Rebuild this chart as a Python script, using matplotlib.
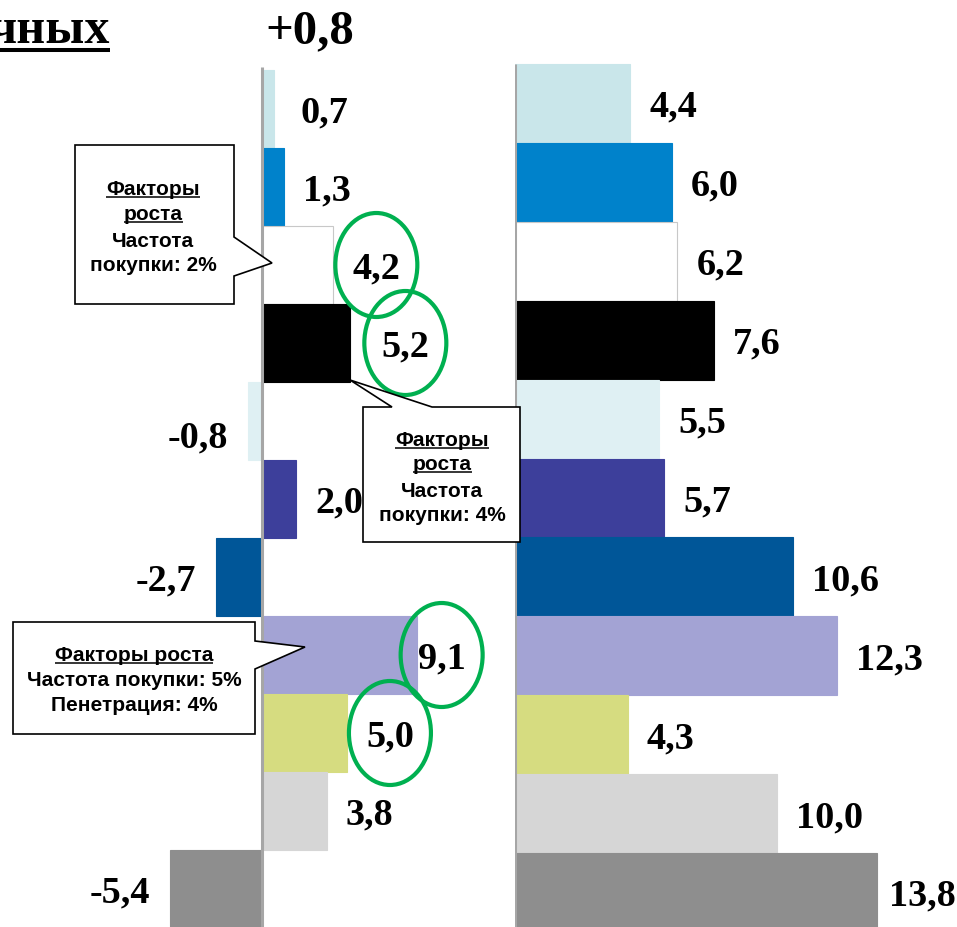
import matplotlib.pyplot as plt
from matplotlib.patches import Ellipse, Polygon

# --- data -------------------------------------------------------------
rows = list(range(11))
left_values = [0.7, 1.3, 4.2, 5.2, -0.8, 2.0, -2.7, 9.1, 5.0, 3.8, -5.4]
right_values = [4.4, 6.0, 6.2, 7.6, 5.5, 5.7, 10.6, 12.3, 4.3, 10.0, 13.8]
bar_colors = ["#c9e6ea", "#0082cb", "#ffffff", "#000000", "#dff0f3", "#3d3f9b",
              "#005698", "#a3a3d4", "#d6dc80", "#d6d6d6", "#8e8e8e"]
circled_rows = [2, 3, 7, 8]

header_word = "чных"
header_value = "+0,8"

note_2 = ["Факторы", "роста", "Частота", "покупки: 2%"]
note_4 = ["Факторы", "роста", "Частота", "покупки: 4%"]
note_5 = ["Факторы роста", "Частота покупки: 5%", "Пенетрация: 4%"]

W, H = 957, 928
SERIF = "Liberation Serif"
SANS = "Liberation Sans"
GREEN = "#00b050"
AXIS_GRAY = "#a6a6a6"


def fmt(v):
    return f"{v:.1f}".replace(".", ",")


fig = plt.figure(figsize=(W / 100, H / 100), dpi=100)


def make_pane(x0, width, zero_px, px_per_unit, top_px, pitch):
    ax = fig.add_axes([x0 / W, 0, width / W, 1])
    ax.set_xlim(-zero_px / px_per_unit, (width - zero_px) / px_per_unit)
    ax.set_ylim(-0.5 + (H - top_px) / pitch, -0.5 - top_px / pitch)
    ax.axis("off")
    return ax


def draw_bars(ax, values, top_pad):
    edges = ["#c8c8c8" if c == "#ffffff" else c for c in bar_colors]
    ax.barh(rows, values, height=1.0, color=bar_colors, edgecolor=edges,
            linewidth=0.8, zorder=2)
    y0, _ = ax.get_ylim()
    ax.plot([0, 0], [y0, -0.5 - top_pad], color=AXIS_GRAY, lw=2.2,
            solid_capstyle="butt", zorder=3)


# left pane: 17 px per unit, zero at x=262
ax_l = make_pane(0, 515, 262, 17.0, 71, 78.0)
draw_bars(ax_l, left_values, 0.04)

# right pane: ~26.2 px per unit, zero at x=515
ax_r = make_pane(515, 442, 0, 26.2, 65, 78.9)
draw_bars(ax_r, right_values, 0.0)

label_kw = dict(textcoords="offset pixels", va="center", fontsize=27.5,
                fontweight="bold", family=SERIF, zorder=4)

left_labels = []
for i, v in enumerate(left_values):
    dx, dy = (19, -3) if v >= 0 else (-20, -3)
    if i == 0:
        dx = 27
    elif i == 3:
        dx = 31
    elif i == 7:
        dx = 1
    elif i == 4:
        dy = -16
    t = ax_l.annotate(fmt(v), xy=(v, i), xytext=(dx, dy),
                      ha="left" if v >= 0 else "right", **label_kw)
    left_labels.append(t)

for i, v in enumerate(right_values):
    dx = 12 if i == 10 else 19
    ax_r.annotate(fmt(v), xy=(v, i), xytext=(dx, -3), ha="left", **label_kw)

# overlay in pixel coordinates for header and callouts
ov = fig.add_axes([0, 0, 1, 1])
ov.set_xlim(0, W)
ov.set_ylim(H, 0)
ov.axis("off")
ov.set_zorder(5)

hw = ov.text(110, 43, header_word, ha="right", va="baseline", fontsize=36,
             fontweight="bold", family=SERIF)
ov.text(265, 43, header_value, ha="left", va="baseline", fontsize=35,
        fontweight="bold", family=SERIF)

box_kw = dict(closed=True, facecolor="white", edgecolor="black", lw=1.2,
              zorder=6)
ov.add_patch(Polygon([(75, 146), (234, 146), (234, 238), (272, 264),
                      (234, 277), (234, 305), (75, 305)], **box_kw))
ov.add_patch(Polygon([(363, 408), (392, 408), (350, 381), (432, 408),
                      (520, 408), (520, 543), (363, 543)], **box_kw))
ov.add_patch(Polygon([(13, 623), (255, 623), (255, 642), (305, 648),
                      (255, 670), (255, 735), (13, 735)], **box_kw))

underlined = []


def note(lines, cx, baselines, n_underlined):
    for k, (s, y) in enumerate(zip(lines, baselines)):
        t = ov.text(cx, y, s, ha="center", va="baseline", fontsize=15,
                    fontweight="bold", family=SANS, zorder=7)
        if k < n_underlined:
            underlined.append((t, y + 3, 1.1))


note(note_2, 153, [195, 220, 247, 271], 2)
note(note_4, 442, [446, 470, 497, 521], 2)
note(note_5, 134, [661, 686, 711], 1)

fig.canvas.draw()
renderer = fig.canvas.get_renderer()
inv = ov.transData.inverted()

# underline the callout headings and the header word
underlined.append((hw, 51, 2.9))
for t, y, lw in underlined:
    bb = t.get_window_extent(renderer)
    x0 = max(inv.transform((bb.x0, 0))[0], 0)
    x1 = inv.transform((bb.x1, 0))[0]
    ov.plot([x0, x1], [y, y], color="black", lw=lw, zorder=7,
            solid_capstyle="butt")

# green rings around highlighted left-pane values
inv_l = ax_l.transData.inverted()
for i in circled_rows:
    bb = left_labels[i].get_window_extent(renderer)
    cx = inv_l.transform(((bb.x0 + bb.x1) / 2, 0))[0]
    ax_l.add_patch(Ellipse((cx, i), 82 / 17.0, 104 / 78.0, fill=False,
                           edgecolor=GREEN, lw=3.0, zorder=5))

fig.savefig("out.png", dpi=100)
